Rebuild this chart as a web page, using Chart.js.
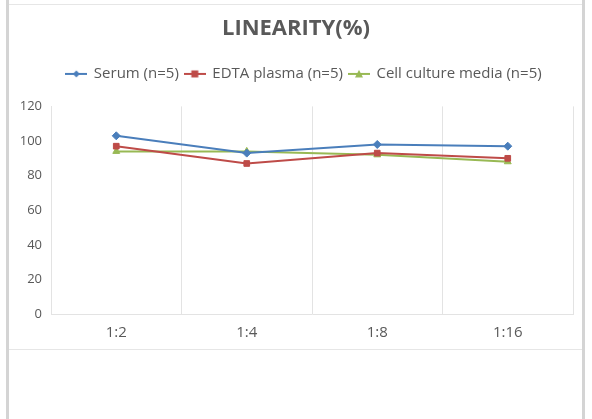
<!DOCTYPE html>
<html>
<head>
<meta charset="utf-8">
<script src="https://cdn.jsdelivr.net/npm/chart.js@4.4.1/dist/chart.umd.min.js"></script>
<style>
  html, body { margin: 0; padding: 0; background: #fff; }
  body { width: 592px; height: 419px; position: relative; overflow: hidden; }
  #lbar { position: absolute; left: 6px; top: 0; width: 3px; height: 419px; background: #d4d4d4; }
  #rbar { position: absolute; left: 582px; top: 0; width: 3px; height: 419px; background: #d4d4d4; }
  #tline { position: absolute; left: 9px; top: 4px; width: 573px; height: 1px; background: #e6e6e6; }
  #bline { position: absolute; left: 9px; top: 349px; width: 573px; height: 1px; background: #e6e6e6; }
  #wrap { position: absolute; left: 0; top: 0; width: 592px; height: 361px; }
</style>
</head>
<body>
<div id="lbar"></div><div id="rbar"></div><div id="tline"></div><div id="bline"></div>
<div id="wrap"><canvas id="c" width="592" height="361"></canvas></div>
<script>
const categories = ['1:2', '1:4', '1:8', '1:16'];
const serum = [103, 93, 98, 97];
const edtaPlasma = [97, 87, 93, 90];
const cellCulture = [94, 94, 92, 88];
const yTicks = [0, 20, 40, 60, 80, 100, 120];
const seriesNames = ['Serum (n=5)', 'EDTA plasma (n=5)', 'Cell culture media (n=5)'];

const colors = ['#4a7ebb', '#be4b48', '#98b954'];
const markers = ['rectRot', 'rect', 'triangle'];

function legendIcon(color, style) {
  const c = document.createElement('canvas');
  c.width = 22; c.height = 10;
  const g = c.getContext('2d');
  g.strokeStyle = color; g.lineWidth = 2;
  g.beginPath(); g.moveTo(0, 5); g.lineTo(22, 5); g.stroke();
  g.fillStyle = color;
  g.beginPath();
  if (style === 'rectRot') { g.moveTo(11, 1.5); g.lineTo(14.5, 5); g.lineTo(11, 8.5); g.lineTo(7.5, 5); g.closePath(); }
  else if (style === 'rect') { g.rect(7.5, 1.5, 7, 7); }
  else { g.moveTo(11, 1); g.lineTo(15, 8.5); g.lineTo(7, 8.5); g.closePath(); }
  g.fill();
  return c;
}

const dataArrays = [serum, edtaPlasma, cellCulture];
const datasets = dataArrays.map((d, i) => ({
  label: seriesNames[i],
  data: d,
  borderColor: colors[i],
  backgroundColor: colors[i],
  borderWidth: 2,
  pointStyle: markers[i],
  pointRadius: 4,
  pointBorderWidth: 1,
  tension: 0
}));

const legendSpace = {
  id: 'legendSpace',
  beforeInit(chart) {
    const fit = chart.legend.fit;
    chart.legend.fit = function () { fit.call(this); this.height += 15; };
  },
  afterLayout(chart) {
    chart.legend.left += 8;
    chart.legend.right += 8;
  }
};

new Chart(document.getElementById('c'), {
  type: 'line',
  data: { labels: categories, datasets },
  plugins: [legendSpace],
  options: {
    responsive: false,
    animation: false,
    layout: { padding: { left: 19, right: 19, top: 0, bottom: 9 } },
    plugins: {
      tooltip: { enabled: false },
      title: {
        display: true,
        text: 'LINEARITY(%)',
        color: '#595959',
        font: { family: "'Open Sans', sans-serif", size: 22, weight: 'bold' },
        padding: { top: 16, bottom: 18 }
      },
      legend: {
        display: true,
        labels: {
          color: '#595959',
          font: { family: "'Open Sans', sans-serif", size: 15 },
          usePointStyle: true,
          pointStyleWidth: 20,
          padding: 6,
          generateLabels(chart) {
            return chart.data.datasets.map((ds, i) => ({
              text: ds.label,
              pointStyle: legendIcon(colors[i], markers[i]),
              fillStyle: colors[i],
              strokeStyle: colors[i],
              lineWidth: 0,
              fontColor: '#595959',
              datasetIndex: i,
              hidden: false
            }));
          }
        }
      }
    },
    scales: {
      x: {
        offset: true,
        grid: { display: true, offset: true, color: '#e3e3e3', drawTicks: false, lineWidth: 1 },
        border: { display: true, color: '#e3e3e3' },
        ticks: { color: '#595959', padding: 10, font: { family: "'Open Sans', sans-serif", size: 15 } }
      },
      y: {
        min: 0, max: 120,
        afterFit(scale) { scale.width = 32; },
        afterBuildTicks(scale) { scale.ticks = yTicks.map(v => ({ value: v })); },
        grid: { display: false, drawTicks: false },
        border: { display: true, color: '#e3e3e3' },
        ticks: { color: '#595959', padding: 9, stepSize: 20, font: { family: "'Open Sans', sans-serif", size: 13 } }
      }
    }
  }
});
</script>
</body>
</html>
